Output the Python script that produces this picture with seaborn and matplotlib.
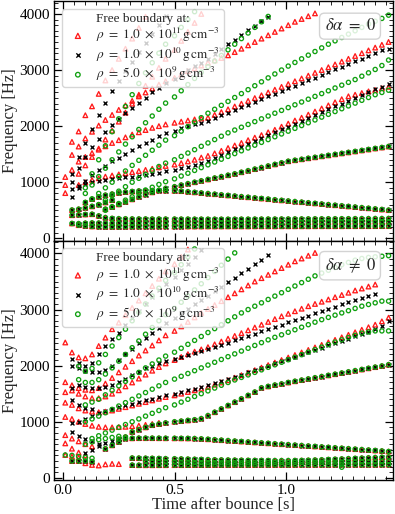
import matplotlib
matplotlib.use("Agg")
import matplotlib.pyplot as plt
import seaborn as sns
import pandas as pd
from matplotlib.ticker import MultipleLocator

# time columns of the mode analysis [s]
T = [0.01, 0.04, 0.07, 0.10, 0.13, 0.16, 0.19, 0.22, 0.25, 0.28,
     0.31, 0.34, 0.37, 0.40, 0.43, 0.46, 0.50, 0.53, 0.56, 0.59,
     0.62, 0.65, 0.68, 0.71, 0.74, 0.77, 0.80, 0.83, 0.86, 0.89,
     0.92, 0.95, 0.98, 1.01, 1.04, 1.07, 1.10, 1.13, 1.16, 1.19,
     1.22, 1.25, 1.28, 1.31, 1.34, 1.37, 1.40, 1.43, 1.46]

# each track: (first column, frequencies [Hz])
# ---------------- top panel, delta alpha = 0 ----------------
top_L1 = (2, [235, 222, 212, 208, 205, 205, 205, 206, 207, 208, 208, 209, 209, 210, 210, 210, 211, 211, 211, 212,
              212, 212, 213, 213, 213, 213, 214, 214, 214, 214, 215, 215, 215, 215, 215, 216, 216, 216, 216, 216,
              217, 217, 217, 217, 218, 218, 218])
top_L2 = (1, [265, 262, 270, 275, 272, 270, 268, 268, 268, 268, 269, 270, 270, 271, 272, 272, 273, 274, 275, 275,
              276, 277, 278, 278, 279, 280, 281, 282, 283, 284, 285, 286, 287, 288, 289, 290, 291, 292, 292, 293,
              293, 294, 294, 295, 295, 296, 296, 297])
top_L3 = (1, [412, 420, 425, 430, 400, 370, 355, 350, 348, 346, 345, 345, 344, 344, 343, 343, 342, 342, 341, 341,
              340, 340, 340, 340, 340, 341, 341, 342, 342, 343, 343, 344, 344, 345, 345, 346, 347, 347, 348, 348,
              349, 349, 350, 351, 351, 352, 352, 353])
top_E = (1, [505, 520, 545, 570, 600, 640, 680])
top_D = (3, [640, 700, 740, 770, 790, 810, 825, 835, 845, 850, 852, 852, 850, 847, 842, 831, 820, 809, 798, 787,
             776, 765, 754, 743, 732, 721, 710, 699, 688, 677, 666, 655, 645, 634, 623, 612, 601, 590, 580, 569,
             558, 547, 536, 525, 514, 503])
top_R = (6, [520, 560, 605, 650, 695, 740, 780, 820, 855, 890, 920, 950, 975, 1000, 1025, 1050, 1075, 1100, 1125,
             1150, 1178, 1206, 1234, 1262, 1290, 1318, 1346, 1374, 1392, 1409, 1427, 1444, 1462, 1479, 1497, 1514,
             1532, 1549, 1567, 1584, 1602, 1619, 1637])

top_red_a = (0, [1093, 1720, 1905, 2194, 2353, 2575, 2814, 3000, 3200, 3380, 3560, 3750, 3950])
top_red_b = (0, [950, 1487, 1636, 1780, 1900, 2010, 2110, 2200, 2290, 2370, 2450, 2530, 2600, 2670, 2740, 2800,
                 2860, 2920, 2980, 3030, 3080, 3130, 3170, 3215, 3262, 3320, 3380, 3440, 3500, 3560, 3620, 3680,
                 3740, 3800, 3860, 3910, 3960, 4010])
top_red_c = (0, [806, 1219, 1367, 1450, 1520, 1580, 1640, 1700, 1750, 1800, 1850, 1890, 1930, 1970, 2000, 2030,
                 2060, 2080, 2100, 2120, 2135, 2150, 2200, 2250, 2300, 2350, 2400, 2450, 2500, 2550, 2600, 2650,
                 2700, 2750, 2800, 2850, 2900, 2950, 3000, 3050, 3100, 3150, 3200, 3250, 3300, 3350, 3400, 3450,
                 3500])
top_red_e = (2, [950, 1000, 1040, 1070, 1100, 1120, 1140, 1160, 1180, 1200, 1220, 1240, 1265, 1290, 1315, 1340,
                 1370, 1400, 1440, 1470, 1515, 1560, 1610, 1655, 1700, 1750, 1795, 1840, 1890, 1935, 1990, 2045,
                 2100, 2150, 2205, 2260, 2315, 2370, 2425, 2480, 2532, 2560, 2590, 2620, 2645, 2675, 2700])
top_red_f = (2, [1150, 1300, 1450, 1600, 1760, 1920, 2080, 2240, 2400, 2560, 2720, 2880, 3040, 3200, 3360, 3520,
                 3680, 3840, 4000])

top_black_a = (1, [1150, 1450, 1700, 1950, 2200, 2420, 2620, 2800, 2980, 3150, 3320, 3480, 3640, 3800, 3960])
top_black_b = (1, [1000, 1250, 1450, 1620, 1770, 1900, 2020, 2130, 2230, 2330, 2420, 2510, 2600, 2680, 2760, 2840,
                   2920, 3000, 3070, 3130, 3190, 3280, 3370, 3460, 3540, 3620, 3710, 3790, 3870, 3950])
top_black_c = (1, [740, 900, 1020, 1120, 1210, 1290, 1370, 1440, 1510, 1580, 1640, 1700, 1760, 1820, 1870, 1920,
                   1960, 2000, 2030, 2060, 2090, 2140, 2190, 2235, 2285, 2335, 2380, 2430, 2480, 2530, 2575, 2625,
                   2675, 2720, 2770, 2820, 2865, 2915, 2965, 3015, 3060, 3110, 3160, 3205, 3255, 3305, 3350, 3381])
top_black_d = (1, [880, 930, 970, 1000, 1020, 1040, 1055, 1070, 1085, 1100, 1115, 1130, 1150, 1170, 1195, 1220,
                   1250, 1280, 1310, 1345, 1380, 1430, 1480, 1530, 1585, 1635, 1685, 1735, 1790, 1840, 1890, 1940,
                   1990, 2045, 2095, 2145, 2195, 2245, 2300, 2350, 2400, 2450, 2500, 2550, 2605, 2655, 2705, 2754])

top_green_a = (3, [900, 1150, 1400, 1650, 1900, 2130, 2350, 2560, 2760, 2950, 3130, 3300, 3460, 3610, 3760, 3900,
                   4040])
top_green_b = (3, [800, 950, 1100, 1250, 1400, 1540, 1680, 1810, 1940, 2060, 2180, 2300, 2410, 2520, 2630, 2740,
                   2850, 2960, 3060, 3160, 3260, 3360, 3460, 3560, 3660, 3760, 3860, 3955])
top_green_c = (4, [700, 800, 900, 1000, 1100, 1200, 1300, 1390, 1480, 1570, 1660, 1750, 1830, 1910, 1990, 2070,
                   2150, 2230, 2300, 2370, 2440, 2510, 2580, 2650, 2720, 2790, 2860, 2930, 3000, 3070, 3135, 3200,
                   3265, 3330, 3395, 3460, 3520, 3580, 3640, 3700, 3760, 3820, 3870, 3920, 3978])
top_green_d = (5, [600, 680, 760, 840, 920, 1000, 1070, 1140, 1210, 1280, 1340, 1400, 1460, 1520, 1580, 1640,
                   1700, 1760, 1820, 1880, 1930, 1980, 2030, 2080, 2130, 2180, 2230, 2280, 2330, 2380, 2430, 2480,
                   2530, 2580, 2630, 2680, 2730, 2780, 2830, 2890, 2950, 3010, 3080, 3178])
top_green_e = (6, [500, 560, 620, 680, 740, 800, 860, 910, 960, 1010, 1060, 1110, 1160, 1210, 1260, 1310, 1360,
                   1410, 1460, 1510, 1560, 1610, 1660, 1710, 1760, 1810, 1860, 1910, 1960, 2010, 2060, 2110, 2160,
                   2210, 2260, 2310, 2360, 2410, 2460, 2510, 2560, 2600, 2640])

# ---------------- bottom panel, delta alpha != 0 ----------------
bot_L1 = (10, [228, 226, 225, 225, 226, 226, 227, 227, 228, 228, 228, 229, 229, 229, 230, 230, 230, 230, 230, 231,
               231, 231, 231, 231, 232, 232, 232, 232, 232, 232, 233, 233, 233, 233, 233, 233, 233, 234, 234])
bot_L2 = (12, [300, 295, 290, 285, 280, 277, 275, 273, 271, 270, 269, 268, 268, 268, 268, 268, 268, 269, 270, 271,
               272, 273, 274, 275, 276, 277, 278, 279, 280, 281, 282, 283, 284, 285, 286, 287, 289])
bot_L3 = (10, [354, 352, 350, 348, 345, 342, 340, 337, 334, 331, 328, 325, 322, 320, 318, 316, 314, 312, 311, 310,
               309, 308, 308, 308, 309, 311, 314, 318, 322, 327, 332, 337, 342, 347, 352, 357, 362, 367, 372])
bot_E = (1, [300, 300, 300, 290])
bot_D = (8, [690, 700, 705, 708, 708, 708, 707, 706, 705, 704, 703, 700, 695, 688, 680, 672, 664, 656, 648, 640,
             632, 624, 616, 608, 600, 592, 584, 576, 568, 560, 552, 544, 536, 528, 520, 512, 504, 496, 488, 480,
             470])
bot_R = (6, [520, 580, 640, 730, 820, 860, 900, 940, 960, 980, 1000, 1012, 1024, 1036, 1056, 1110, 1170, 1230,
             1290, 1350, 1410, 1470, 1530, 1605, 1630, 1655, 1675, 1700, 1722, 1743, 1764, 1785, 1806, 1827, 1848,
             1869, 1890, 1911, 1932, 1953, 1974, 1995, 2018])

bot_red_a = (0, [2413, 2235, 2147, 2130, 2200, 2350, 2500, 2650, 2767, 2900, 3030, 3160, 3290, 3420, 3550, 3680,
                 3810, 3940, 4070])
bot_red_b = (0, [1705, 1650, 1600, 1570, 1560, 1600, 1680, 1780, 1880, 1980, 2080, 2180, 2270, 2360, 2450, 2540,
                 2620, 2700, 2780, 2860, 2940, 3010, 3080, 3150, 3220, 3290, 3360, 3430, 3500, 3560, 3620, 3680,
                 3740, 3800, 3860, 3910, 3960, 4010])
bot_red_c = (0, [1527, 1557, 1499, 1450, 1420, 1420, 1450, 1500, 1560, 1630, 1700, 1770, 1840, 1910, 1975, 2040,
                 2100, 2155, 2205, 2250, 2290, 2330, 2380, 2430, 2480, 2530, 2580, 2630, 2680, 2730, 2780, 2830,
                 2880, 2925, 2970, 3015, 3060, 3100, 3140, 3180, 3220, 3260, 3300, 3340, 3375, 3410, 3446])
bot_red_d = (0, [1340, 1300, 1239, 1200, 1180, 1170, 1180, 1200, 1230, 1260, 1290, 1320, 1350, 1380, 1410, 1440,
                 1470, 1500, 1530, 1560, 1590, 1620, 1660, 1700, 1740, 1785, 1830, 1875, 1920, 1965, 2010, 2055,
                 2100, 2145, 2190, 2235, 2280, 2325, 2370, 2415, 2460, 2505, 2550, 2595, 2640, 2685, 2730, 2790,
                 2855])
bot_red_e = (0, [1085, 1050, 1000, 960, 930, 910, 900, 900, 905, 910, 920, 930, 945, 960, 980])
bot_red_f = (0, [761, 700, 650, 600, 560])
bot_red_g = (0, [614, 520, 450, 400])
bot_red_h = (0, [407, 380, 360])
bot_red_low = (3, [260, 230, 220, 240, 250, 245])

bot_black_a = (1, [2118, 2050, 2000, 2050, 2200, 2353, 2476, 2590, 2720, 2850, 2980, 3100, 3220, 3340, 3460, 3580,
                   3700, 3820, 3940, 4060])
bot_black_b = (1, [2000, 1950, 1900, 1880, 1880, 1920, 2000, 2100, 2200, 2300, 2400, 2490, 2580, 2670, 2760, 2850,
                   2930, 3010, 3090, 3170, 3250, 3330, 3410, 3490, 3570, 3650, 3730, 3810, 3890, 3970])
bot_black_c = (1, [1600, 1650, 1620, 1600, 1600, 1620, 1660, 1710, 1770, 1830, 1890, 1950, 2000, 2040, 2080, 2115,
                   2150, 2185, 2220, 2255, 2290, 2330, 2370, 2410, 2450, 2490, 2530, 2570, 2610, 2650, 2690, 2730,
                   2770, 2810, 2850, 2890, 2930, 2970, 3010, 3050, 3090, 3130, 3165, 3200, 3235, 3269])
bot_black_d = (1, [973, 1000, 1050, 1100, 1150, 1200, 1230, 1260, 1290, 1320, 1350, 1380, 1410, 1440, 1470, 1500,
                   1530, 1560, 1590, 1620, 1655, 1690, 1725, 1760, 1800, 1840, 1880, 1920, 1960, 2000, 2040, 2080,
                   2120, 2160, 2200, 2240, 2280, 2320, 2360, 2400, 2440, 2480, 2520, 2560, 2600, 2650, 2700, 2796])
bot_black_e = (1, [820, 750, 700, 650, 600])
bot_black_f = (3, [450, 500, 560, 620, 660, 690])
bot_black_g = (1, [1380, 1300, 1250, 1230])

bot_green_a = (2, [1990, 1900, 1950, 2050, 2200, 2350, 2500, 2650, 2800, 2950, 3100, 3240, 3380, 3520, 3660, 3800,
                   3940, 4080])
bot_green_b = (2, [1750, 1700, 1700, 1750, 1850, 1960, 2080, 2200, 2320, 2440, 2560, 2680, 2800, 2910, 3020, 3130,
                   3240, 3350, 3460, 3570, 3680, 3790, 3900, 4010])
bot_green_c = (3, [1300, 1350, 1400, 1480, 1560, 1640, 1720, 1800, 1880, 1960, 2030, 2100, 2170, 2240, 2310, 2380,
                   2450, 2520, 2590, 2660, 2730, 2800, 2870, 2940, 3000, 3060, 3120, 3180, 3240, 3300, 3360, 3420,
                   3480, 3540, 3600, 3650, 3700, 3750, 3800, 3840, 3880, 3910, 3929, 3940, 3950, 3960])
bot_green_d = (3, [1000, 1050, 1100, 1160, 1220, 1280, 1340, 1400, 1460, 1520, 1580, 1640, 1700, 1760, 1810, 1860,
                   1910, 1960, 2010, 2060, 2110, 2160, 2210, 2260, 2310, 2360, 2410, 2460, 2505, 2550, 2595, 2640,
                   2685, 2730, 2775, 2820, 2860, 2900, 2940, 2980, 3020, 3060, 3090, 3120, 3150, 3150])
bot_green_e = (4, [700, 750, 800, 850, 900, 950, 1000, 1050, 1100, 1150, 1200, 1250, 1300, 1350, 1400, 1450, 1500,
                   1550, 1600, 1650, 1700, 1745, 1790, 1835, 1880, 1925, 1970, 2015, 2060, 2105, 2150, 2195, 2240,
                   2285, 2330, 2375, 2420, 2460, 2500, 2540, 2580, 2600, 2619, 2619, 2619])
bot_green_f = (3, [600, 640, 680, 700, 720, 740])
bot_green_low = (0, [407, 400, 380, 360, 350])
bot_green_stray = (41, [189])

top_shared = [top_L1, top_L2, top_L3, top_E, top_D, top_R]
bot_shared = [bot_L1, bot_L2, bot_L3, bot_E, bot_D, bot_R]

top_series = {
    "rho11": [top_red_a, top_red_b, top_red_c, top_red_e, top_red_f],
    "rho10": [top_black_a, top_black_b, top_black_c, top_black_d],
    "rho9": [top_green_a, top_green_b, top_green_c, top_green_d, top_green_e],
}
bot_series = {
    "rho11": [bot_red_a, bot_red_b, bot_red_c, bot_red_d, bot_red_e, bot_red_f, bot_red_g, bot_red_h, bot_red_low],
    "rho10": [bot_black_a, bot_black_b, bot_black_c, bot_black_d, bot_black_e, bot_black_f, bot_black_g],
    "rho9": [bot_green_a, bot_green_b, bot_green_c, bot_green_d, bot_green_e, bot_green_f, bot_green_low,
             bot_green_stray],
}

labels = {
    "rho11": r"$\rho\ =\ 1.0\ \times\ 10^{11}\,\mathrm{g\,cm}^{-3}$",
    "rho10": r"$\rho\ =\ 1.0\ \times\ 10^{10}\,\mathrm{g\,cm}^{-3}$",
    "rho9": r"$\rho\ =\ 5.0\ \times\ 10^{9}\,\mathrm{g\,cm}^{-3}$",
}
styles = {
    "rho11": dict(marker="^", color="#ff1a1a", s=11),
    "rho10": dict(marker="x", color="black", s=8),
    "rho9": dict(marker="o", color="#10a010", s=9),
}


def to_frame(tracks):
    rows = []
    for start, vals in tracks:
        for t, f in zip(T[start:], vals):
            rows.append((t, f))
    return pd.DataFrame(rows, columns=["time", "freq"])


sns.set_theme(style="ticks")
plt.rcParams["font.family"] = ["Liberation Serif", "DejaVu Serif"]
plt.rcParams["mathtext.fontset"] = "stix"
plt.rcParams.update({
    "xtick.direction": "in", "ytick.direction": "in",
    "xtick.top": True, "ytick.right": True,
    "xtick.minor.visible": True, "ytick.minor.visible": True,
    "xtick.major.size": 6, "ytick.major.size": 6,
    "xtick.minor.size": 3, "ytick.minor.size": 3,
    "xtick.major.width": 0.9, "ytick.major.width": 0.9,
    "xtick.minor.width": 0.6, "ytick.minor.width": 0.6,
    "xtick.major.pad": 2.5, "ytick.major.pad": 3,
    "axes.linewidth": 1.0, "axes.edgecolor": "black",
    "xtick.color": "black", "ytick.color": "black",
})

fig, axes = plt.subplots(2, 1, figsize=(3.95, 5.14), dpi=100, sharex=True)
fig.subplots_adjust(left=0.137, right=0.995, top=0.998, bottom=0.066, hspace=0)

panels = [(axes[0], top_shared, top_series, r"$\delta\alpha\ =\ 0$"),
          (axes[1], bot_shared, bot_series, r"$\delta\alpha\ \neq\ 0$")]

for ax, shared, per_series, tag in panels:
    for key in ["rho11", "rho10", "rho9"]:
        df = to_frame(shared + per_series[key])
        st = styles[key]
        kw = dict(linewidth=0.95)
        if st["marker"] != "x":
            kw.update(facecolor="none", edgecolor=st["color"])
        sns.scatterplot(data=df, x="time", y="freq", ax=ax, marker=st["marker"], color=st["color"],
                        s=st["s"], label=labels[key], legend=False, zorder=3, **kw)

    ax.set_xlim(-0.04, 1.48)
    ax.set_ylim(-40, 4230)
    ax.xaxis.set_major_locator(MultipleLocator(0.5))
    ax.xaxis.set_minor_locator(MultipleLocator(0.05))
    ax.yaxis.set_major_locator(MultipleLocator(1000))
    ax.yaxis.set_minor_locator(MultipleLocator(100))
    ax.tick_params(labelsize=11)
    ax.set_ylabel("Frequency [Hz]", fontsize=12, labelpad=1)
    ax.set_xlabel("Time after bounce [s]", fontsize=12, labelpad=0)

    leg = ax.legend(loc="upper left", title="Free boundary at:", fontsize=9.5, title_fontsize=9.5,
                    frameon=True, fancybox=True, framealpha=0.8, edgecolor="0.8",
                    handletextpad=0.5, borderpad=0.3, labelspacing=0.1, handlelength=1.8,
                    borderaxespad=0.6, markerscale=1.1)
    leg.set_zorder(10)

    ax.text(0.873, 0.895, tag, transform=ax.transAxes, ha="center", va="center", fontsize=12, zorder=11,
            bbox=dict(boxstyle="round,pad=0.3", fc="white", ec="0.8", alpha=0.85))

axes[0].set_xlabel("")
fig.savefig("out.png", dpi=100)
